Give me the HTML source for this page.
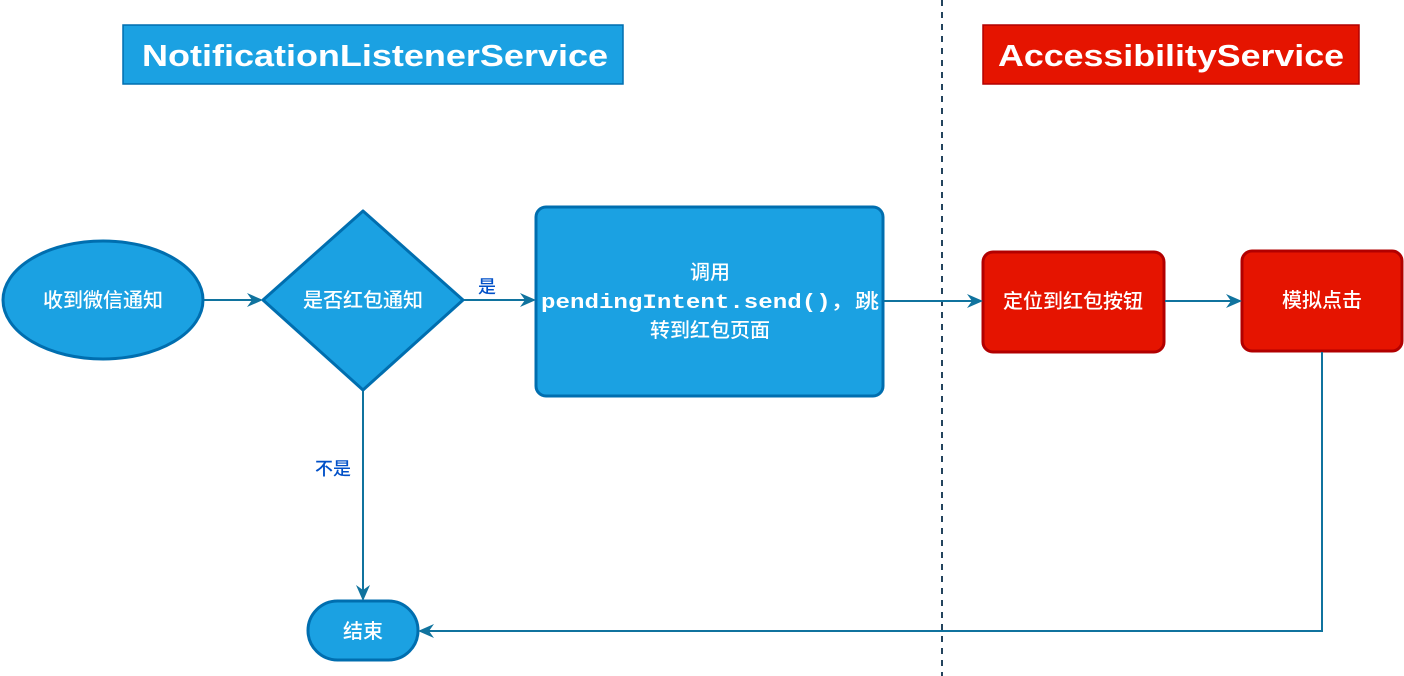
<!DOCTYPE html>
<html><head><meta charset="utf-8"><style>
html,body{margin:0;padding:0;background:#fff;}
svg{display:block;}
.cn{font-family:"Liberation Sans","Noto Sans CJK SC",sans-serif;font-weight:500;}
</style></head><body>
<svg width="1404" height="676" viewBox="0 0 1404 676" xmlns="http://www.w3.org/2000/svg">
<defs>
<marker id="a" markerWidth="16" markerHeight="16" refX="14" refY="8" orient="auto" markerUnits="userSpaceOnUse">
<path d="M0,1 L16,8 L0,15 L5,8 Z" fill="#10739e"/>
</marker>
</defs>
<line x1="942" y1="0" x2="942" y2="676" stroke="#23445d" stroke-width="2" stroke-dasharray="6,6"/>
<rect x="123" y="25" width="500" height="59" fill="#1ba1e2" stroke="#006eaf" stroke-width="1.5"/>
<text x="375" y="66" text-anchor="middle" font-family="Liberation Sans,sans-serif" font-weight="bold" font-size="31" fill="#fff" textLength="466" lengthAdjust="spacingAndGlyphs">NotificationListenerService</text>
<rect x="983" y="25" width="376" height="59" fill="#e51400" stroke="#b20000" stroke-width="1.5"/>
<text x="1171" y="66" text-anchor="middle" font-family="Liberation Sans,sans-serif" font-weight="bold" font-size="31" fill="#fff" textLength="346" lengthAdjust="spacingAndGlyphs">AccessibilityService</text>
<ellipse cx="103" cy="300" rx="100" ry="59" fill="#1ba1e2" stroke="#006eaf" stroke-width="3"/>
<text x="103" y="307" text-anchor="middle" class="cn" font-size="20" fill="#fff">收到微信通知</text>
<polygon points="363,211 463,300 363,390 263,300" fill="#1ba1e2" stroke="#006eaf" stroke-width="3" stroke-linejoin="round"/>
<text x="363" y="307" text-anchor="middle" class="cn" font-size="20" fill="#fff">是否红包通知</text>
<rect x="536" y="207" width="347" height="189" rx="10" fill="#1ba1e2" stroke="#006eaf" stroke-width="3"/>
<text x="710" y="279" text-anchor="middle" class="cn" font-size="20" fill="#fff">调用</text>
<text x="710" y="308" text-anchor="middle" font-size="20" fill="#fff" textLength="338" lengthAdjust="spacingAndGlyphs"><tspan font-family="Liberation Mono,monospace" font-weight="bold">pendingIntent.send()</tspan><tspan class="cn">，跳</tspan></text>
<text x="710" y="337" text-anchor="middle" class="cn" font-size="20" fill="#fff">转到红包页面</text>
<rect x="983" y="252" width="181" height="100" rx="10" fill="#e51400" stroke="#b20000" stroke-width="3"/>
<text x="1073" y="308" text-anchor="middle" class="cn" font-size="20" fill="#fff">定位到红包按钮</text>
<rect x="1242" y="251" width="160" height="100" rx="10" fill="#e51400" stroke="#b20000" stroke-width="3"/>
<text x="1322" y="307" text-anchor="middle" class="cn" font-size="20" fill="#fff">模拟点击</text>
<rect x="308" y="601" width="110" height="59" rx="29.5" fill="#1ba1e2" stroke="#006eaf" stroke-width="3"/>
<text x="363" y="638" text-anchor="middle" class="cn" font-size="20" fill="#fff">结束</text>
<g stroke="#10739e" stroke-width="2" fill="none">
<line x1="204" y1="300" x2="261" y2="300" marker-end="url(#a)"/>
<line x1="464" y1="300" x2="534" y2="300" marker-end="url(#a)"/>
<line x1="884" y1="301" x2="981" y2="301" marker-end="url(#a)"/>
<line x1="1165" y1="301" x2="1240" y2="301" marker-end="url(#a)"/>
<line x1="363" y1="391" x2="363" y2="599" marker-end="url(#a)"/>
<polyline points="1322,352 1322,631 420,631" marker-end="url(#a)"/>
</g>
<text x="487" y="293" text-anchor="middle" class="cn" font-size="18" fill="#0050c8">是</text>
<text x="333" y="475" text-anchor="middle" class="cn" font-size="18" fill="#0050c8">不是</text>
</svg>
</body></html>
